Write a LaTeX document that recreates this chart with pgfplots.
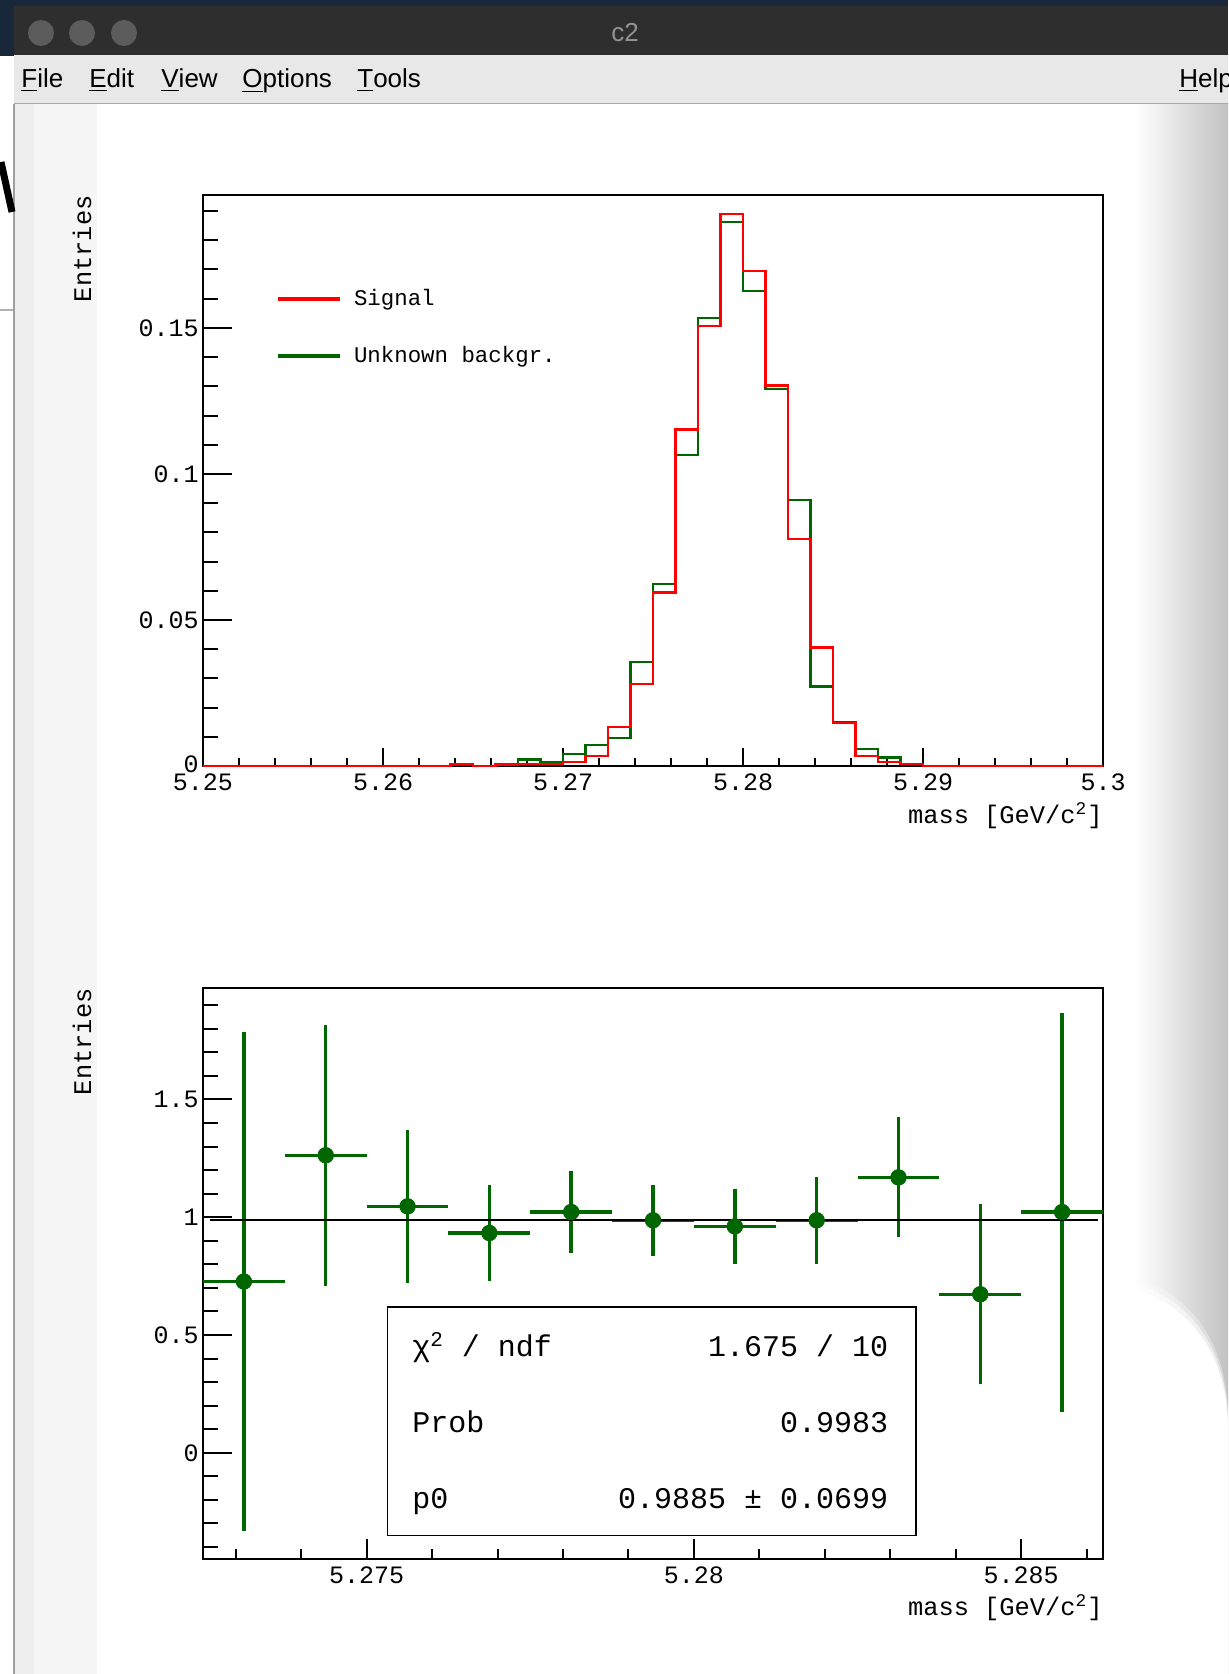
\documentclass[border=0pt]{standalone}
\usepackage{fontspec}
\setmainfont{Liberation Mono}
\newfontfamily\uifont{Liberation Sans}
\usepackage{pgfplots}
\usepackage{pgfplotstable}
\pgfplotsset{compat=1.18}

\definecolor{rootgreen}{RGB}{0,102,0}
\definecolor{titlebar}{RGB}{46,46,46}
\definecolor{titledot}{RGB}{92,92,92}
\definecolor{menubar}{RGB}{232,232,232}
\definecolor{navy}{RGB}{24,40,58}

% 40 bins of 1.25 MeV, low edge + content
\pgfplotstableread{
x       sig     bkg
5.25000 0       0
5.25125 0       0
5.25250 0       0
5.25375 0       0
5.25500 0       0
5.25625 0       0
5.25750 0       0
5.25875 0       0
5.26000 0       0
5.26125 0       0
5.26250 0       0
5.26375 0.0006  0.0004
5.26500 0       0
5.26625 0.0005  0.0004
5.26750 0.0008  0.0022
5.26875 0.0008  0.0014
5.27000 0.0015  0.0042
5.27125 0.0034  0.0071
5.27250 0.0134  0.0097
5.27375 0.0280  0.0356
5.27500 0.0594  0.0622
5.27625 0.1152  0.1066
5.27750 0.1507  0.1534
5.27875 0.1891  0.1863
5.28000 0.1696  0.1626
5.28125 0.1303  0.1290
5.28250 0.0776  0.0910
5.28375 0.0406  0.0272
5.28500 0.0146  0.0149
5.28625 0.0034  0.0057
5.28750 0.0015  0.0029
5.28875 0.0006  0.0006
5.29000 0       0
5.29125 0       0
5.29250 0       0
5.29375 0       0
5.29500 0       0
5.29625 0       0
5.29750 0       0
5.29875 0       0
5.30000 0       0
}\histdata

% ratio backgr./signal in the fitted bins
\pgfplotstableread{
x        y      ex        ey
5.273125 0.727  0.000625  1.060
5.274375 1.263  0.000625  0.555
5.275625 1.046  0.000625  0.324
5.276875 0.933  0.000625  0.204
5.278125 1.022  0.000625  0.173
5.279375 0.987  0.000625  0.151
5.280625 0.961  0.000625  0.160
5.281875 0.987  0.000625  0.185
5.283125 1.169  0.000625  0.255
5.284375 0.673  0.000625  0.382
5.285625 1.022  0.000625  0.847
}\ratiodata

\pgfplotsset{
  rootpad/.style={
    scale only axis, width=450pt, height=285.5pt,
    clip=false,
    axis line style={line width=1pt},
    tick style={black, line width=1pt},
    tick align=inside, tick pos=left,
    ticklabel style={font=\fontsize{12.5}{14}\selectfont, inner sep=0pt},
    xticklabel style={anchor=north, yshift=-3.5pt},
    yticklabel style={anchor=east, xshift=-2pt},
    /pgf/number format/assume math mode=true,
    label style={font=\fontsize{12.7}{15}\selectfont, inner sep=0pt},
    every y tick/.append style={/pgfplots/major tick length=14.5pt, /pgfplots/minor tick length=7.5pt},
    ylabel={Entries},
    ylabel style={at={(rel axis cs:-0.1344,1)}, anchor=east},
    xlabel={mass [GeV/c\textsuperscript{2}]},
  }
}

\begin{document}
\begin{tikzpicture}
\useasboundingbox (0,0) rectangle (614pt,-837pt);
\clip (0,0) rectangle (614pt,-837pt);

% window around the canvas
\begin{scope}[x=0.5pt,y=-0.5pt]
  \fill[white] (0,0) rectangle (1228,1674);
  \fill[gray!8] (14,104) rectangle (97,1674);
  \fill[gray!13] (14,104) rectangle (34,1674);
  \shade[left color=white, right color=gray!48] (1135,104) rectangle (1228,1674);
  \foreach \d/\op in {-12/0.3,-6/0.5,0/1} {
    \fill[white, opacity=\op] (1135,1290+\d) .. controls (1175,1300+\d) and (1228,1340+\d) .. (1228,1430+\d)
       -- (1228,1674) -- (1135,1674) -- cycle;
  }
  \draw[gray!75, line width=1pt] (14,104) -- (14,1674);
  \draw[gray!60, line width=0.75pt] (0,310) -- (13,310);
  \draw[black, line width=3.5pt] (1,162) -- (12,212);
  \fill[navy] (0,0) rectangle (1228,6);
  \fill[navy] (0,0) rectangle (14,56);
  \fill[titlebar] (14,6) rectangle (1228,55);
  \foreach \cx in {41,82,124} \fill[titledot] (\cx,33) circle (13);
  \node[text=gray!85!white, font=\uifont\fontsize{13}{15}\selectfont] at (625,33) {c2};
  \fill[menubar] (14,55) rectangle (1228,103);
  \draw[gray!70, line width=0.75pt] (14,103.5) -- (1228,103.5);
  \begin{scope}[every node/.style={anchor=base west, inner sep=0pt, font=\uifont\fontsize{13}{15}\selectfont}]
    \node at (21,88) {\underline{F}ile};
    \node at (89,88) {\underline{E}dit};
    \node at (161,88) {\underline{V}iew};
    \node at (242,88) {\underline{O}ptions};
    \node at (357,88) {\underline{T}ools};
    \node at (1179,88) {\underline{H}elp};
  \end{scope}
\end{scope}

% upper pad: the two mass distributions
\begin{axis}[rootpad,
    at={(101.5pt,-383pt)}, anchor=south west,
    xmin=5.25, xmax=5.3, ymin=0, ymax=0.1955,
    xtick={5.25,5.26,5.27,5.28,5.29,5.3},
    xticklabels={5.25,5.26,5.27,5.28,5.29,5.3},
    minor xtick={5.252,5.254,5.256,5.258,5.262,5.264,5.266,5.268,5.272,5.274,5.276,5.278,
                 5.282,5.284,5.286,5.288,5.292,5.294,5.296,5.298},
    ytick={0,0.05,0.1,0.15},
    yticklabels={\raisebox{2pt}{0},0.05,0.1,0.15},
    minor ytick={0.01,0.02,0.03,0.04,0.06,0.07,0.08,0.09,0.11,0.12,0.13,0.14,0.16,0.17,0.18,0.19},
    every x tick/.append style={/pgfplots/major tick length=9pt, /pgfplots/minor tick length=4pt},
    xlabel style={at={(rel axis cs:1,-0.0876)}, anchor=east},
    legend image code/.code={\draw[#1] (0pt,0pt) -- (31pt,0pt);},
    legend style={draw=none, fill=none, at={(rel axis cs:0.0807,0.7675)}, anchor=west,
                  font=\fontsize{11.2}{13}\selectfont, row sep=19pt, column sep=6pt,
                  inner sep=0pt, nodes={inner sep=0pt}},
    legend cell align=left,
  ]
  \addlegendimage{red, line width=2pt}
  \addlegendentry{Signal}
  \addlegendimage{rootgreen, line width=2pt}
  \addlegendentry{Unknown backgr.}
  \addplot[rootgreen, line width=1.1pt, const plot mark left, forget plot] table[x=x, y=bkg] {\histdata};
  \addplot[red, line width=1.1pt, const plot mark left, forget plot] table[x=x, y=sig] {\histdata};
\end{axis}

% lower pad: ratio with constant fit
\begin{axis}[rootpad,
    at={(101.5pt,-779.5pt)}, anchor=south west,
    xmin=5.2725, xmax=5.28625, ymin=-0.451, ymax=1.973,
    xtick={5.275,5.28,5.285},
    xticklabels={5.275,5.28,5.285},
    minor xtick={5.273,5.274,5.276,5.277,5.278,5.279,5.281,5.282,5.283,5.284,5.286},
    ytick={0,0.5,1,1.5},
    yticklabels={0,0.5,1,1.5},
    minor ytick={-0.4,-0.3,-0.2,-0.1,0.1,0.2,0.3,0.4,0.6,0.7,0.8,0.9,1.1,1.2,1.3,1.4,1.6,1.7,1.8,1.9},
    every x tick/.append style={/pgfplots/major tick length=10pt, /pgfplots/minor tick length=5pt},
    xlabel style={at={(rel axis cs:1,-0.0858)}, anchor=east},
  ]
  \addplot[rootgreen, line width=1.7pt, draw=none, mark=none,
      error bars/.cd, x dir=both, x explicit, y dir=both, y explicit, error mark=none,
      error bar style={rootgreen, line width=1.7pt}]
      table[x=x, y=y, x error=ex, y error=ey] {\ratiodata};
  \addplot[black, line width=1pt] coordinates {(5.2726,0.9885) (5.28618,0.9885)};
  \addplot[rootgreen, only marks, mark=*, mark size=3.9pt, mark options={line width=0.4pt}]
      table[x=x, y=y] {\ratiodata};
  % fit statistics box
  \draw[line width=0.8pt, fill=white] (rel axis cs:0.2051,0.0412) rectangle (rel axis cs:0.7924,0.4413);
  \begin{scope}[every node/.style={inner sep=0pt, font=\fontsize{15}{18}\selectfont}]
    \node[anchor=base west] at (rel axis cs:0.2322,0.3546) {χ\textsuperscript{2} / ndf};
    \node[anchor=base east] at (rel axis cs:0.7616,0.3546) {1.675 / 10};
    \node[anchor=base west] at (rel axis cs:0.2322,0.2219) {Prob};
    \node[anchor=base east] at (rel axis cs:0.7616,0.2219) {0.9983};
    \node[anchor=base west] at (rel axis cs:0.2322,0.0893) {p0};
    \node[anchor=base east] at (rel axis cs:0.7616,0.0893) {0.9885 ± 0.0699};
  \end{scope}
\end{axis}
\end{tikzpicture}
\end{document}
